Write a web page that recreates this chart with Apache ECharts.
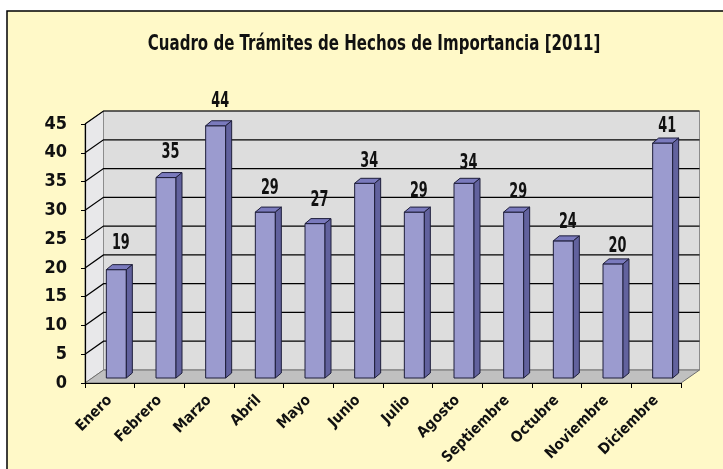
<!DOCTYPE html>
<html>
<head>
<meta charset="utf-8">
<script src="https://cdn.jsdelivr.net/npm/echarts@6/dist/echarts.min.js"></script>
<style>
  html, body { margin: 0; padding: 0; background: #ffffff; }
  #chart { width: 723px; height: 469px; }
</style>
</head>
<body>
<div id="chart"></div>
<script>
// données du graphique
const meses = ['Enero', 'Febrero', 'Marzo', 'Abril', 'Mayo', 'Junio', 'Julio', 'Agosto', 'Septiembre', 'Octubre', 'Noviembre', 'Diciembre'];
const tramites = [19, 35, 44, 29, 27, 34, 29, 34, 29, 24, 20, 41];
const yMax = 45;
const yPaso = 5;
const titulo = 'Cuadro de Trámites de Hechos de Importancia [2011]';

const fuente = "'DejaVu Sans Condensed', 'Liberation Sans Narrow', sans-serif";
const prof = [18.5, -13];      // profondeur du décor 3D
const barProf = [6, -5];       // profondeur d'une barre

const chart = echarts.init(document.getElementById('chart'));

// murs, sol et lignes de grille du décor
function renderMurs(params, api) {
  const bw = api.size([1, 0])[0];
  const c0 = api.coord([0, 0]);
  const xl = c0[0] - bw / 2;
  const xr = xl + meses.length * bw;
  const y0 = c0[1];
  const yT = api.coord([0, yMax])[1];
  const dx = prof[0], dy = prof[1];
  const children = [
    { type: 'rect', shape: { x: xl + dx, y: yT + dy, width: xr - xl, height: y0 - yT },
      style: { fill: '#dddddd', stroke: '#8c8c8c', lineWidth: 1 } },
    { type: 'polygon', shape: { points: [[xl, yT], [xl + dx, yT + dy], [xl + dx, y0 + dy], [xl, y0]] },
      style: { fill: '#e8e8ea', stroke: '#8c8c8c', lineWidth: 1 } },
    { type: 'polygon', shape: { points: [[xl, y0], [xl + dx, y0 + dy], [xr + dx, y0 + dy], [xr, y0]] },
      style: { fill: '#c0c0c0', stroke: '#6e6e6e', lineWidth: 1 } }
  ];
  for (let v = yPaso; v <= yMax; v += yPaso) {
    const y = api.coord([0, v])[1];
    children.push({ type: 'polyline',
      shape: { points: [[xl, y], [xl + dx, y + dy], [xr + dx, y + dy]] },
      style: { fill: null, stroke: '#000', lineWidth: 1.2 } });
  }
  return { type: 'group', children: children };
}

// barre 3D : face avant, dessus, côté
function renderBarra(params, api) {
  const i = api.value(0);
  const v = api.value(1);
  const top = api.coord([i, v]);
  const base = api.coord([i, 0]);
  const w = 20;
  const x0 = top[0] - 4 + 0.5, x1 = x0 + w;
  const yT = top[1] + barProf[1] + 1;
  const yB = base[1] + barProf[1];
  const dx = barProf[0], dy = barProf[1];
  const trait = { stroke: '#1e1e3a', lineWidth: 1 };
  // petit effet de perspective sur la hauteur des étiquettes (comme Excel)
  const labelDy = -30 + 0.017 * (top[0] - 110);
  return {
    type: 'group',
    children: [
      { type: 'rect', shape: { x: x0, y: yT, width: w, height: yB - yT },
        style: Object.assign({ fill: '#9b9bcf' }, trait) },
      { type: 'polygon', shape: { points: [[x0, yT], [x0 + dx, yT + dy], [x1 + dx, yT + dy], [x1, yT]] },
        style: Object.assign({ fill: '#7a7abd' }, trait) },
      { type: 'polygon', shape: { points: [[x1, yT], [x1 + dx, yT + dy], [x1 + dx, yB + dy], [x1, yB]] },
        style: Object.assign({ fill: '#62629e' }, trait) },
      { type: 'text', x: top[0] + 11, y: top[1] + labelDy, scaleX: 0.68,
        style: { text: String(v), fill: '#111', font: 'bold 21px ' + fuente,
                 align: 'center', verticalAlign: 'middle' } }
    ]
  };
}

const option = {
  backgroundColor: '#ffffff',
  animation: false,
  graphic: [{
    type: 'rect', z: -10, silent: true,
    shape: { x: 7, y: 11, width: 740, height: 480 },
    style: { fill: '#fff9c8', stroke: '#000', lineWidth: 1.5 }
  }, {
    type: 'text', z: 10, silent: true,
    x: 374, y: 44, scaleX: 0.76,
    style: { text: titulo, fill: '#111', font: 'bold 22px ' + fuente,
             align: 'center', verticalAlign: 'middle' }
  }],
  grid: { left: 85, right: 42, top: 124, bottom: 86 },
  xAxis: {
    type: 'category', data: meses, z: 5,
    axisLine: { lineStyle: { color: '#000', width: 1.2 } },
    axisTick: { show: true, alignWithLabel: false, length: 5, lineStyle: { color: '#000' } },
    axisLabel: { interval: 0, rotate: 45, margin: 15, color: '#111',
                 fontFamily: fuente, fontWeight: 'bold', fontSize: 15 },
    splitLine: { show: false }
  },
  yAxis: {
    type: 'value', min: 0, max: yMax, interval: yPaso, z: 5,
    axisLine: { show: true, lineStyle: { color: '#000', width: 1.2 } },
    axisTick: { show: true, length: 4, lineStyle: { color: '#000' } },
    axisLabel: { margin: 18, color: '#111', fontFamily: fuente, fontWeight: 'bold', fontSize: 18 },
    splitLine: { show: false }
  },
  series: [
    { type: 'custom', z: 1, silent: true, renderItem: renderMurs, data: [[0, 0]] },
    { type: 'custom', z: 3, renderItem: renderBarra,
      data: tramites.map((v, i) => [i, v]) }
  ]
};

chart.setOption(option);
</script>
</body>
</html>
